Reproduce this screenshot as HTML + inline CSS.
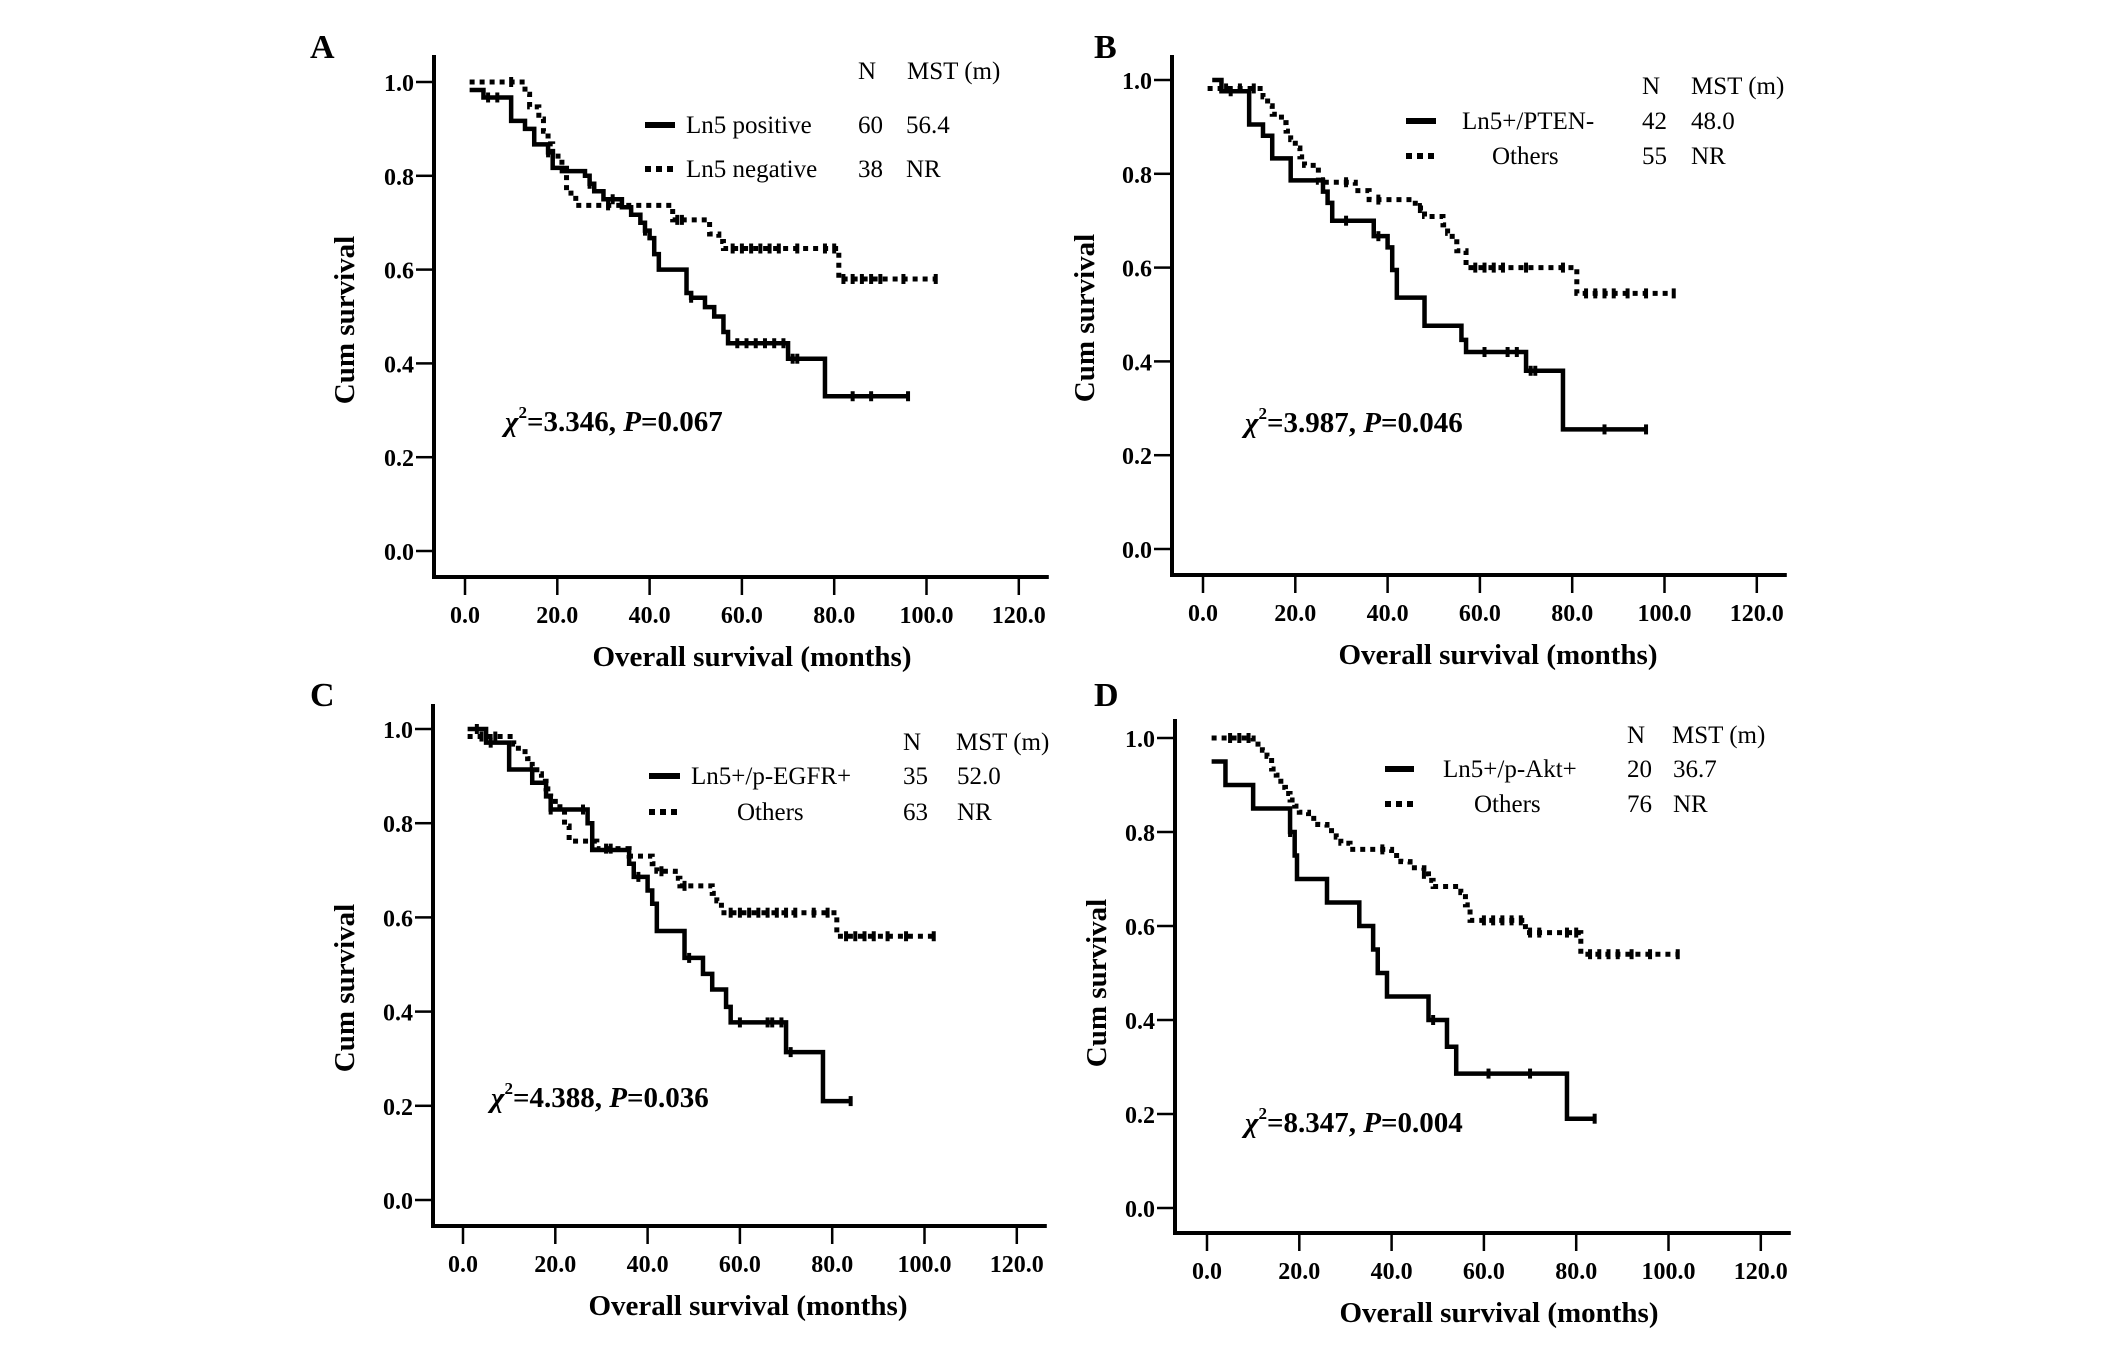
<!DOCTYPE html>
<html><head><meta charset="utf-8">
<style>
html,body{margin:0;padding:0;background:#fff;}
svg{display:block;}
text{font-family:"Liberation Serif","DejaVu Serif",serif;fill:#000;}
</style></head>
<body>
<svg id="fig" width="2126" height="1361" viewBox="0 0 2126 1361"></svg>
<script>
// ---- Data (months, cumulative survival) ----
const aPosTimes=[1,4,10,13,15,18,19,21,26,27,28,30,34,36,38,39,40,41,42,48,49,52,54,56,57,70,78];
const aPosSurv=[0.983,0.967,0.917,0.90,0.867,0.85,0.817,0.81,0.80,0.783,0.767,0.75,0.733,0.717,0.70,0.683,0.667,0.633,0.60,0.55,0.54,0.52,0.50,0.467,0.443,0.41,0.33];
const aPosEnd=96;
const aPosCens=[5,7,18,27,32,39,49,59,61,63,65,67,69,71,72,84,88,96];
const aNegTimes=[1,13,14,16,17,18,19,21,22,24,45,53,55,56,81];
const aNegSurv=[1,0.974,0.947,0.921,0.895,0.868,0.842,0.816,0.763,0.737,0.706,0.676,0.66,0.645,0.58];
const aNegEnd=102;
const aNegCens=[10,19,31,46,47,58,60,62,64,66,68,72,78,80,82,84,86,88,90,95,102];

const bPosTimes=[2,4,10,13,15,19,26,27,28,37,40,41,42,48,56,57,70,78];
const bPosSurv=[1.0,0.976,0.905,0.881,0.833,0.786,0.762,0.738,0.70,0.667,0.643,0.595,0.536,0.476,0.446,0.42,0.38,0.255];
const bPosEnd=96;
const bPosCens=[6,31,38,61,66,68,71,72,87,96];
const bOthTimes=[1,13,14,15,17,18,19,20,21,22,25,33,36,46,48,52,53,54,55,57,81];
const bOthSurv=[0.982,0.964,0.945,0.927,0.909,0.891,0.873,0.855,0.836,0.818,0.782,0.764,0.745,0.727,0.709,0.691,0.673,0.655,0.636,0.6,0.545];
const bOthEnd=102;
const bOthCens=[5,8,11,26,31,38,47,59,61,63,65,70,78,83,85,87,89,92,96,102];

const cPosTimes=[1,5,10,15,18,19,27,28,36,37,40,41,42,48,52,54,57,58,70,78];
const cPosSurv=[1,0.971,0.914,0.886,0.857,0.829,0.80,0.743,0.714,0.686,0.657,0.629,0.571,0.514,0.48,0.447,0.41,0.377,0.314,0.21];
const cPosEnd=84;
const cPosCens=[3,6,19,26,38,49,60,66,67,69,71,84];
const cOthTimes=[1,11,12,14,15,16,17,18,19,20,21,22,23,29,36,41,42,46,47,54,55,56,81];
const cOthSurv=[0.984,0.968,0.952,0.937,0.921,0.905,0.889,0.873,0.857,0.841,0.825,0.794,0.762,0.746,0.73,0.714,0.698,0.683,0.667,0.651,0.635,0.61,0.56];
const cOthEnd=102;
const cOthCens=[4,7,31,32,43,48,58,60,62,64,66,68,70,72,76,79,83,85,87,89,92,96,102];

const dPosTimes=[1,4,10,18,19,19.5,26,33,36,37,39,48,52,54,78];
const dPosSurv=[0.95,0.90,0.85,0.80,0.75,0.70,0.65,0.60,0.55,0.50,0.45,0.40,0.343,0.286,0.19];
const dPosEnd=84;
const dPosCens=[18,49,61,70,84];
const dOthTimes=[1,10,12,13,14,15,16,17,18,19,20,22,24,26,28,29,31,40,42,44,47,48,49,55,56,57,69,81];
const dOthSurv=[1,0.987,0.974,0.961,0.934,0.921,0.895,0.882,0.868,0.855,0.842,0.829,0.816,0.803,0.789,0.776,0.763,0.75,0.737,0.724,0.711,0.697,0.684,0.671,0.645,0.612,0.586,0.54];
const dOthEnd=102;
const dOthCens=[5,7,9,38,47,60,62,64,66,68,70,72,78,80,83,85,87,89,92,96,102];

const xTickVals=[0,20,40,60,80,100,120];
const xTickLabels=["0.0","20.0","40.0","60.0","80.0","100.0","120.0"];
const yTickVals=[0,0.2,0.4,0.6,0.8,1.0];
const yTickLabels=["0.0","0.2","0.4","0.6","0.8","1.0"];

const NS="http://www.w3.org/2000/svg";
const svg=document.getElementById('fig');
function mk(tag,attrs,parent){const e=document.createElementNS(NS,tag);for(const k in attrs)e.setAttribute(k,attrs[k]);(parent||svg).appendChild(e);return e;}

function panel(cfg){
  const g=mk('g',{});
  
  
  const pxPerMonth=4.615;
  const X=t=>cfg.x0+t*pxPerMonth;
  const Y=s=>cfg.y0-(cfg.y0-cfg.y1)*s;
  const L=mk('text',{x:cfg.lx,y:cfg.ly,'font-size':34,'font-weight':'bold'},g);L.textContent=cfg.letter;
  
  
  const ax=mk('path',{d:`M${cfg.ax},${cfg.top} L${cfg.ax},${cfg.axY} L${X(126.5)},${cfg.axY}`,stroke:'#000','stroke-width':4,fill:'none'},g);
  
  
  xTickVals.forEach((v,i)=>{
    mk('line',{x1:X(v),x2:X(v),y1:cfg.axY+2,y2:cfg.axY+18,stroke:'#000','stroke-width':2.5},g);
    const t=mk('text',{x:X(v),y:cfg.axY+46,'font-size':24,'font-weight':'bold','text-anchor':'middle'},g);
    t.textContent=xTickLabels[i];
    
    
  });
  yTickVals.forEach((v,i)=>{
    mk('line',{x1:cfg.ax-18,x2:cfg.ax-2,y1:Y(v),y2:Y(v),stroke:'#000','stroke-width':2.5},g);
    const t=mk('text',{x:cfg.ax-20,y:Y(v)+9,'font-size':24,'font-weight':'bold','text-anchor':'end'},g);
    t.textContent=yTickLabels[i];
    
    
  });
  const xt=mk('text',{x:cfg.xtx,y:cfg.axY+89,'font-size':29,'font-weight':'bold','text-anchor':'middle'},g);
  xt.textContent='Overall survival (months)';
  
  
  const yt=mk('text',{x:0,y:0,'font-size':29,'font-weight':'bold','text-anchor':'middle',transform:`translate(${cfg.ytx},${cfg.yty}) rotate(-90)`},g);
  yt.textContent='Cum survival';
  
  
  function curve(times,surv,end,cens,dashed,name){
    let d=`M${X(times[0])},${Y(surv[0])}`;
    for(let i=1;i<times.length;i++){d+=` L${X(times[i])},${Y(surv[i-1])} L${X(times[i])},${Y(surv[i])}`;}
    d+=` L${X(end)},${Y(surv[surv.length-1])}`;
    const p=mk('path',{d:d,stroke:'#000','stroke-width':dashed?5:4.5,fill:'none','stroke-dasharray':dashed?'5 5':'none'},g);
    
    
    const sAt=t=>{let s=surv[0];for(let i=0;i<times.length;i++){if(times[i]<=t)s=surv[i];}return s;};
    cens.forEach(c=>{
      const m=mk('line',{x1:X(c),x2:X(c),y1:Y(sAt(c))-5,y2:Y(sAt(c))+5,stroke:'#000','stroke-width':4},g);
      
      
    });
  }
  curve(cfg.oT,cfg.oS,cfg.oE,cfg.oC,true,'others-curve');
  curve(cfg.pT,cfg.pS,cfg.pE,cfg.pC,false,'positive-curve');
  const lg=mk('g',{},g);
  
  
  const tx=(x,y,s,anchor)=>{const t=mk('text',{x:x,y:y,'font-size':25,'text-anchor':anchor||'start'},lg);t.textContent=s;return t;};
  tx(cfg.nx,cfg.hy+8,'N');tx(cfg.mx,cfg.hy+8,'MST (m)');
  mk('line',{x1:cfg.lnx1,x2:cfg.lnx2,y1:cfg.r1,y2:cfg.r1,stroke:'#000','stroke-width':6},lg);
  mk('line',{x1:cfg.lnx1,x2:cfg.lnx2,y1:cfg.r2,y2:cfg.r2,stroke:'#000','stroke-width':6,'stroke-dasharray':'6 5'},lg);
  tx(cfg.l1x,cfg.r1+8,cfg.l1);tx(cfg.l2x,cfg.r2+8,cfg.l2);
  tx(cfg.nx,cfg.r1+8,cfg.n1);tx(cfg.nx,cfg.r2+8,cfg.n2);
  tx(cfg.vx,cfg.r1+8,cfg.m1);tx(cfg.vx,cfg.r2+8,cfg.m2);
  const st=mk('text',{x:cfg.sx,y:cfg.sy+10,'font-size':29,'font-weight':'bold'},g);
  st.innerHTML='<tspan font-style="italic">χ</tspan><tspan font-size="17" dy="-13">2</tspan><tspan dy="13">=</tspan>'+cfg.chi+', <tspan font-style="italic">P</tspan>='+cfg.p;
  
  
}

panel({letter:'A',lx:310,ly:58,ax:434,top:55,axY:577,x0:465,y1:82,y0:551,xtx:752,ytx:354,yty:320,
  pT:aPosTimes,pS:aPosSurv,pE:aPosEnd,pC:aPosCens,oT:aNegTimes,oS:aNegSurv,oE:aNegEnd,oC:aNegCens,
  hy:71,nx:858,mx:907,r1:125,r2:169,lnx1:645,lnx2:675,l1x:686,l2x:686,l1:'Ln5 positive',l2:'Ln5 negative',
  n1:'60',n2:'38',vx:906,m1:'56.4',m2:'NR',sx:505,sy:421,chi:'3.346',p:'0.067'});
panel({letter:'B',lx:1094,ly:58,ax:1172,top:55,axY:575,x0:1203,y1:80,y0:549,xtx:1498,ytx:1094,yty:318,
  pT:bPosTimes,pS:bPosSurv,pE:bPosEnd,pC:bPosCens,oT:bOthTimes,oS:bOthSurv,oE:bOthEnd,oC:bOthCens,
  hy:86,nx:1642,mx:1691,r1:121,r2:156,lnx1:1406,lnx2:1436,l1x:1462,l2x:1492,l1:'Ln5+/PTEN-',l2:'Others',
  n1:'42',n2:'55',vx:1691,m1:'48.0',m2:'NR',sx:1245,sy:422,chi:'3.987',p:'0.046'});
panel({letter:'C',lx:310,ly:706,ax:433,top:704,axY:1226,x0:463,y1:729,y0:1200,xtx:748,ytx:354,yty:988,
  pT:cPosTimes,pS:cPosSurv,pE:cPosEnd,pC:cPosCens,oT:cOthTimes,oS:cOthSurv,oE:cOthEnd,oC:cOthCens,
  hy:742,nx:903,mx:956,r1:776,r2:812,lnx1:649,lnx2:680,l1x:691,l2x:737,l1:'Ln5+/p-EGFR+',l2:'Others',
  n1:'35',n2:'63',vx:957,m1:'52.0',m2:'NR',sx:491,sy:1097,chi:'4.388',p:'0.036'});
panel({letter:'D',lx:1094,ly:706,ax:1175,top:719,axY:1233,x0:1207,y1:738,y0:1208,xtx:1499,ytx:1106,yty:983,
  pT:dPosTimes,pS:dPosSurv,pE:dPosEnd,pC:dPosCens,oT:dOthTimes,oS:dOthSurv,oE:dOthEnd,oC:dOthCens,
  hy:735,nx:1627,mx:1672,r1:769,r2:804,lnx1:1385,lnx2:1414,l1x:1443,l2x:1474,l1:'Ln5+/p-Akt+',l2:'Others',
  n1:'20',n2:'76',vx:1673,m1:'36.7',m2:'NR',sx:1245,sy:1122,chi:'8.347',p:'0.004'});
</script>
</body></html>
